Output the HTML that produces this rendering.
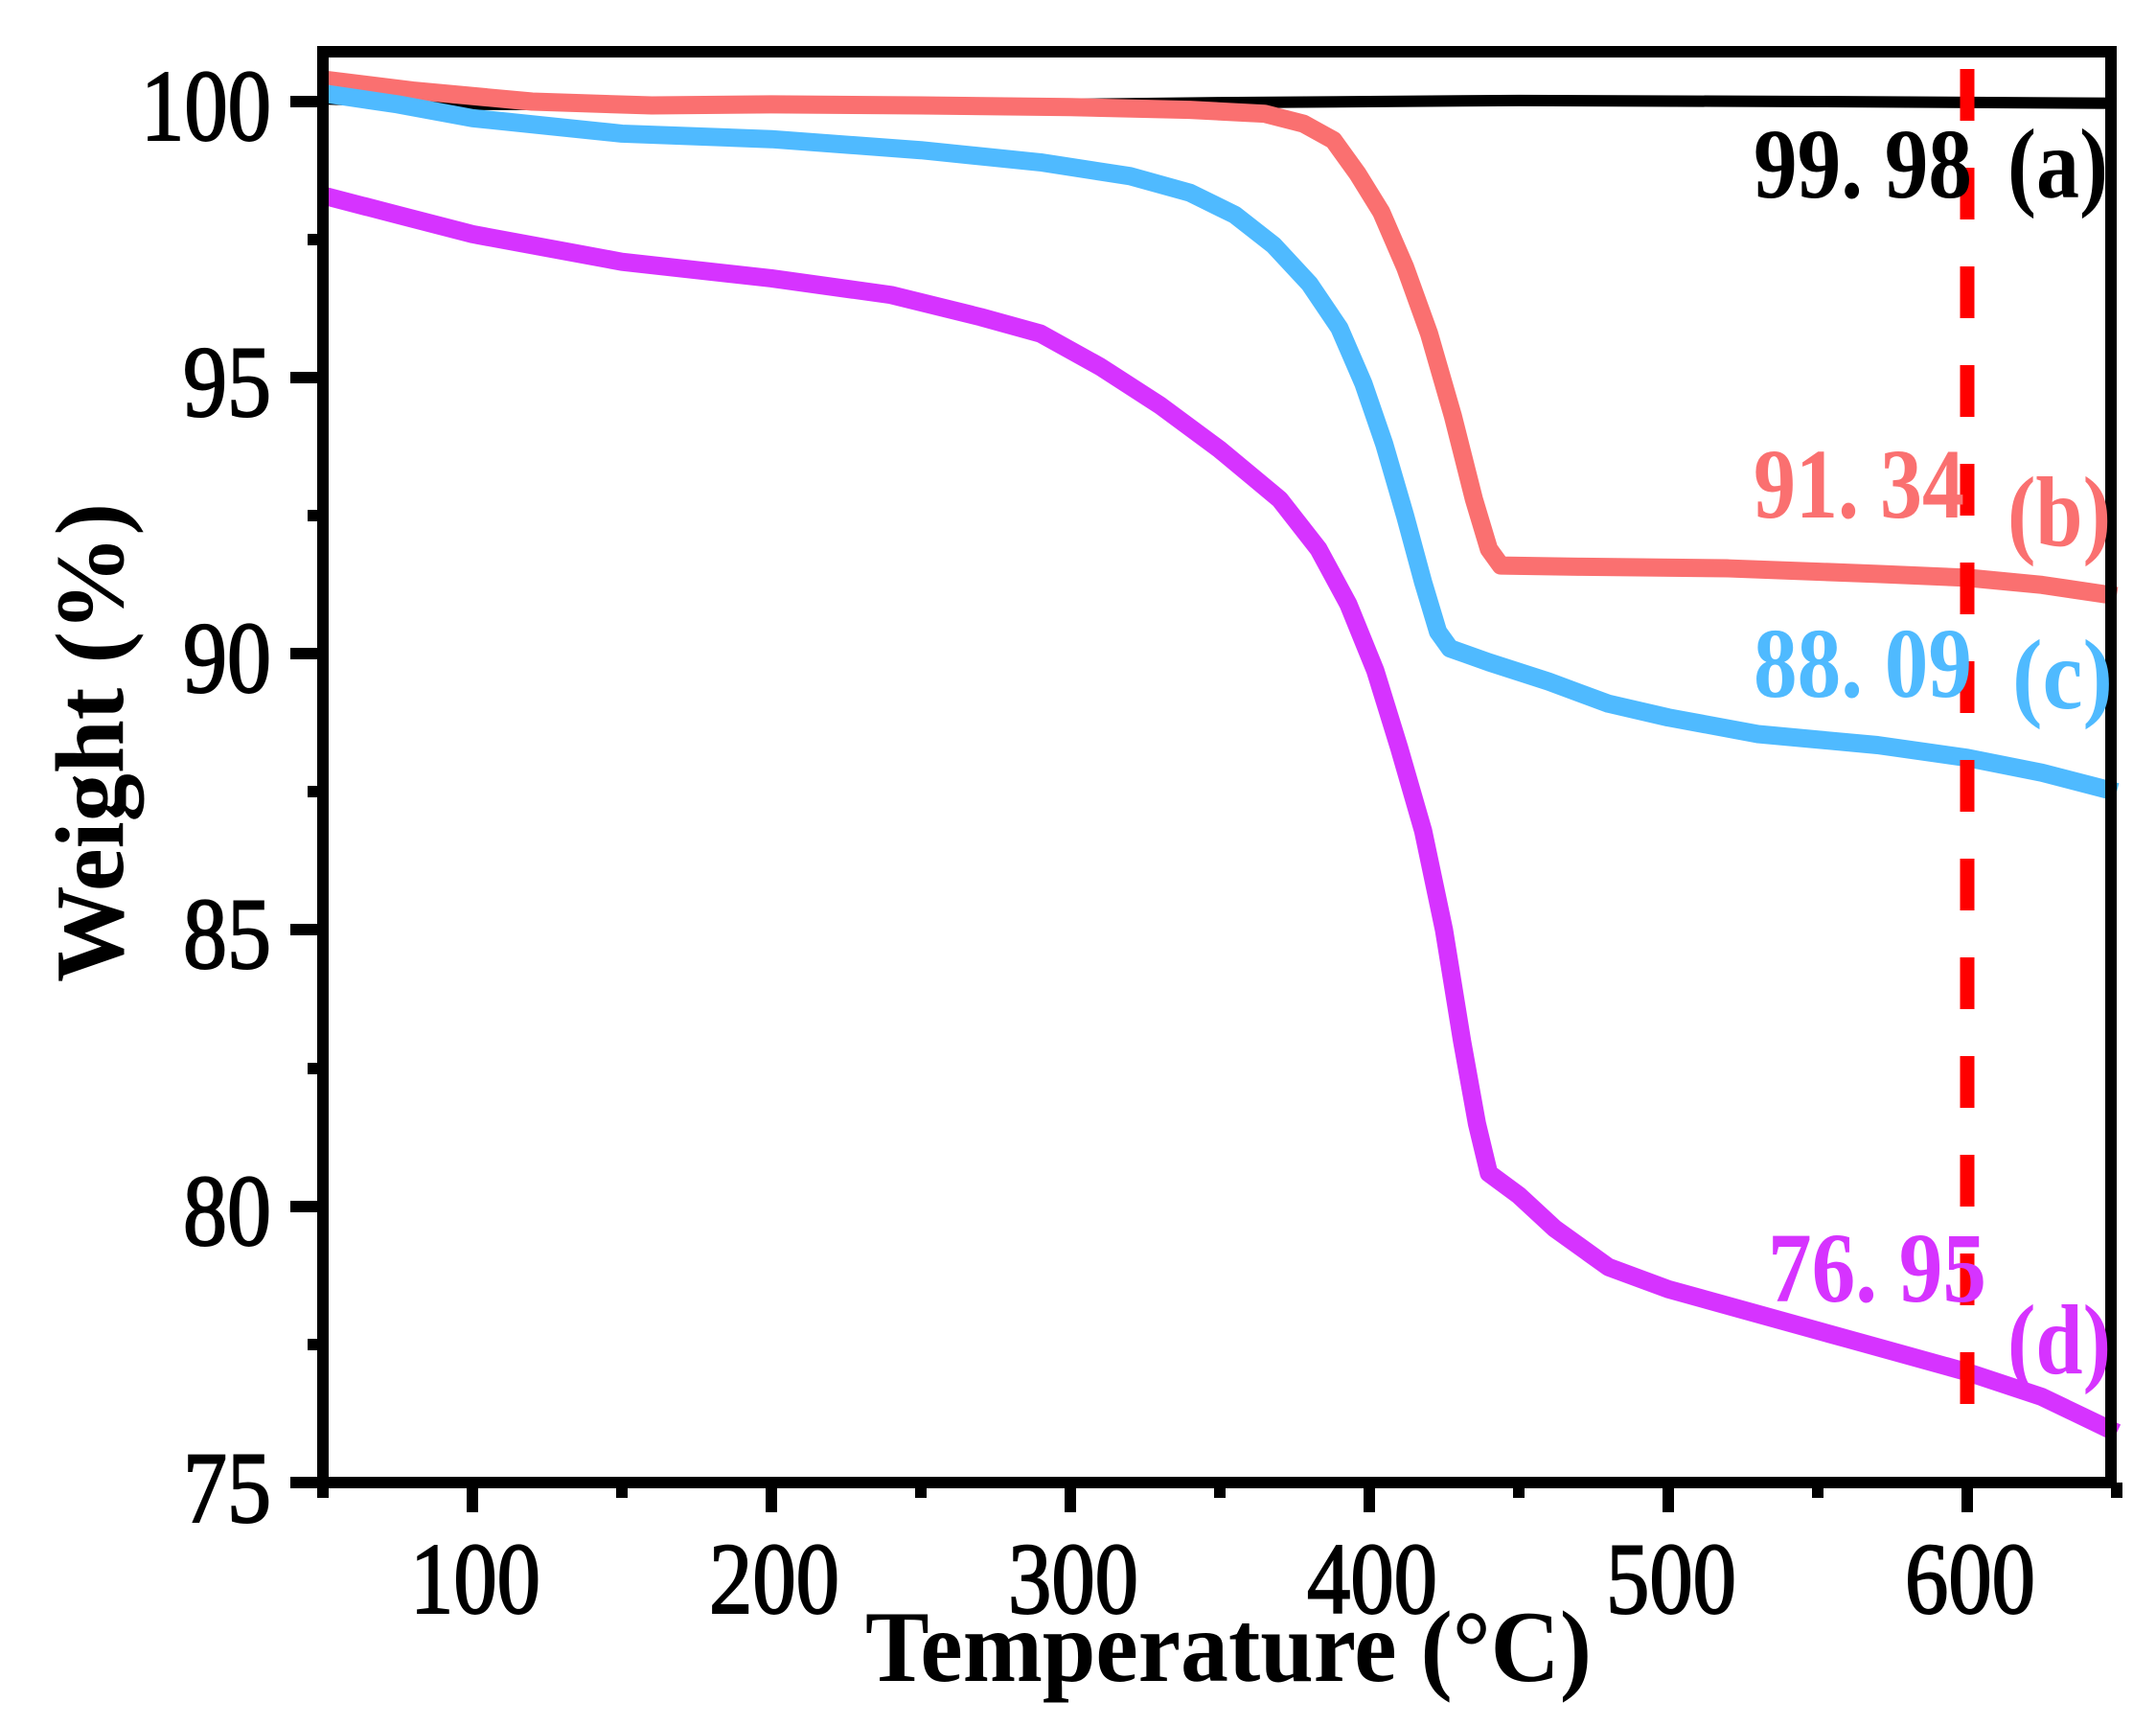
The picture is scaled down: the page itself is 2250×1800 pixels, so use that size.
<!DOCTYPE html>
<html><head><meta charset="utf-8"><style>html,body{margin:0;padding:0;background:#fff}svg{display:block}</style></head>
<body>
<svg width="2250" height="1800" viewBox="0 0 2250 1800" xmlns="http://www.w3.org/2000/svg">
<rect width="2250" height="1800" fill="#fff"/>
<g transform="translate(337,106) scale(3.12,-57.64) translate(-50,-100)" fill="none" stroke-linejoin="round" stroke-linecap="butt">
<polyline vector-effect="non-scaling-stroke" stroke="#000" stroke-width="12" points="50,100.05 100,99.95 200,99.95 300,99.95 350,99.98 450,100.02 550,100.0 650,99.97"/>
<polyline vector-effect="non-scaling-stroke" stroke="#fa7070" stroke-width="19" points="50,100.4 80,100.2 120,100.0 160,99.93 200,99.95 250,99.93 300,99.9 340,99.85 365,99.78 378,99.6 388,99.3 396,98.7 404,98.0 412,97.0 420,95.8 428,94.3 435,92.8 440,91.9 444,91.6 470,91.58 520,91.55 570,91.45 600,91.38 625,91.25 650,91.05"/>
<polyline vector-effect="non-scaling-stroke" stroke="#4fbaff" stroke-width="19" points="50,100.15 75,99.95 100,99.7 150,99.42 200,99.32 250,99.12 290,98.9 320,98.65 340,98.35 355,97.95 368,97.4 380,96.7 390,95.9 398,94.9 405,93.8 412,92.5 418,91.3 423,90.4 427,90.1 440,89.85 460,89.5 480,89.1 500,88.85 530,88.55 570,88.35 600,88.12 625,87.85 650,87.5"/>
<polyline vector-effect="non-scaling-stroke" stroke="#d633ff" stroke-width="19" points="50,98.3 75,97.95 100,97.6 150,97.1 200,96.8 240,96.5 270,96.1 290,95.8 310,95.2 330,94.5 350,93.7 370,92.8 383,91.9 393,90.9 402,89.7 410,88.3 418,86.8 425,85.0 431,83.0 436,81.5 440,80.6 450,80.2 462,79.6 480,78.9 500,78.5 530,78.05 560,77.6 600,77.0 625,76.55 650,75.9"/>
</g>
<line x1="2053" y1="72" x2="2053" y2="1472" stroke="#ff0000" stroke-width="15" stroke-dasharray="54 49"/>
<rect x="337" y="54" width="1866" height="1493" fill="none" stroke="#000" stroke-width="12"/>
<g stroke="#000" stroke-width="12">
<line x1="303" y1="106" x2="337" y2="106"/><line x1="303" y1="394" x2="337" y2="394"/><line x1="303" y1="682" x2="337" y2="682"/><line x1="303" y1="970" x2="337" y2="970"/><line x1="303" y1="1259" x2="337" y2="1259"/><line x1="303" y1="1547" x2="337" y2="1547"/>
<line x1="321" y1="250" x2="337" y2="250"/><line x1="321" y1="538" x2="337" y2="538"/><line x1="321" y1="826" x2="337" y2="826"/><line x1="321" y1="1115" x2="337" y2="1115"/><line x1="321" y1="1403" x2="337" y2="1403"/>
<line x1="493" y1="1547" x2="493" y2="1578"/><line x1="805" y1="1547" x2="805" y2="1578"/><line x1="1117" y1="1547" x2="1117" y2="1578"/><line x1="1429" y1="1547" x2="1429" y2="1578"/><line x1="1741" y1="1547" x2="1741" y2="1578"/><line x1="2053" y1="1547" x2="2053" y2="1578"/>
<line x1="337" y1="1547" x2="337" y2="1563"/><line x1="649" y1="1547" x2="649" y2="1563"/><line x1="961" y1="1547" x2="961" y2="1563"/><line x1="1273" y1="1547" x2="1273" y2="1563"/><line x1="1585" y1="1547" x2="1585" y2="1563"/><line x1="1897" y1="1547" x2="1897" y2="1563"/><line x1="2209" y1="1547" x2="2209" y2="1563"/>
</g>
<g font-family="Liberation Serif, serif" font-size="106" fill="#000" stroke="#000" stroke-width="2" text-anchor="end">
<text x="283" y="146" textLength="136" lengthAdjust="spacingAndGlyphs">100</text><text x="283" y="434" textLength="92" lengthAdjust="spacingAndGlyphs">95</text><text x="283" y="722" textLength="92" lengthAdjust="spacingAndGlyphs">90</text><text x="283" y="1010" textLength="92" lengthAdjust="spacingAndGlyphs">85</text><text x="283" y="1299" textLength="92" lengthAdjust="spacingAndGlyphs">80</text><text x="283" y="1588" textLength="92" lengthAdjust="spacingAndGlyphs">75</text>
</g>
<g font-family="Liberation Serif, serif" font-size="106" fill="#000" stroke="#000" stroke-width="2" text-anchor="middle">
<text x="496" y="1683" textLength="136" lengthAdjust="spacingAndGlyphs">100</text><text x="808" y="1683" textLength="136" lengthAdjust="spacingAndGlyphs">200</text><text x="1120" y="1683" textLength="136" lengthAdjust="spacingAndGlyphs">300</text><text x="1432" y="1683" textLength="136" lengthAdjust="spacingAndGlyphs">400</text><text x="1744" y="1683" textLength="136" lengthAdjust="spacingAndGlyphs">500</text><text x="2056" y="1683" textLength="136" lengthAdjust="spacingAndGlyphs">600</text>
</g>
<text x="903" y="1754" font-family="Liberation Serif, serif" font-weight="bold" font-size="106" textLength="758" lengthAdjust="spacingAndGlyphs">Temperature (°C)</text>
<text transform="translate(128,1025) rotate(-90)" font-family="Liberation Serif, serif" font-weight="bold" font-size="102" textLength="500" lengthAdjust="spacingAndGlyphs">Weight (%)</text>
<g font-family="Liberation Serif, serif" font-weight="bold" font-size="104">
<text x="1830" y="206" fill="#000" textLength="228" lengthAdjust="spacingAndGlyphs">99. 98</text>
<text x="2095" y="206" fill="#000" textLength="105" lengthAdjust="spacingAndGlyphs">(a)</text>
<text x="1830" y="540" fill="#fa7070" textLength="220" lengthAdjust="spacingAndGlyphs">91. 34</text>
<text x="2095" y="569" fill="#fa7070" textLength="108" lengthAdjust="spacingAndGlyphs">(b)</text>
<text x="1830" y="727" fill="#4fbaff" textLength="228" lengthAdjust="spacingAndGlyphs">88. 09</text>
<text x="2100" y="739" fill="#4fbaff" textLength="105" lengthAdjust="spacingAndGlyphs">(c)</text>
<text x="1845" y="1358" fill="#d633ff" textLength="228" lengthAdjust="spacingAndGlyphs">76. 95</text>
<text x="2095" y="1433" fill="#d633ff" textLength="108" lengthAdjust="spacingAndGlyphs">(d)</text>
</g>
</svg>
</body></html>
